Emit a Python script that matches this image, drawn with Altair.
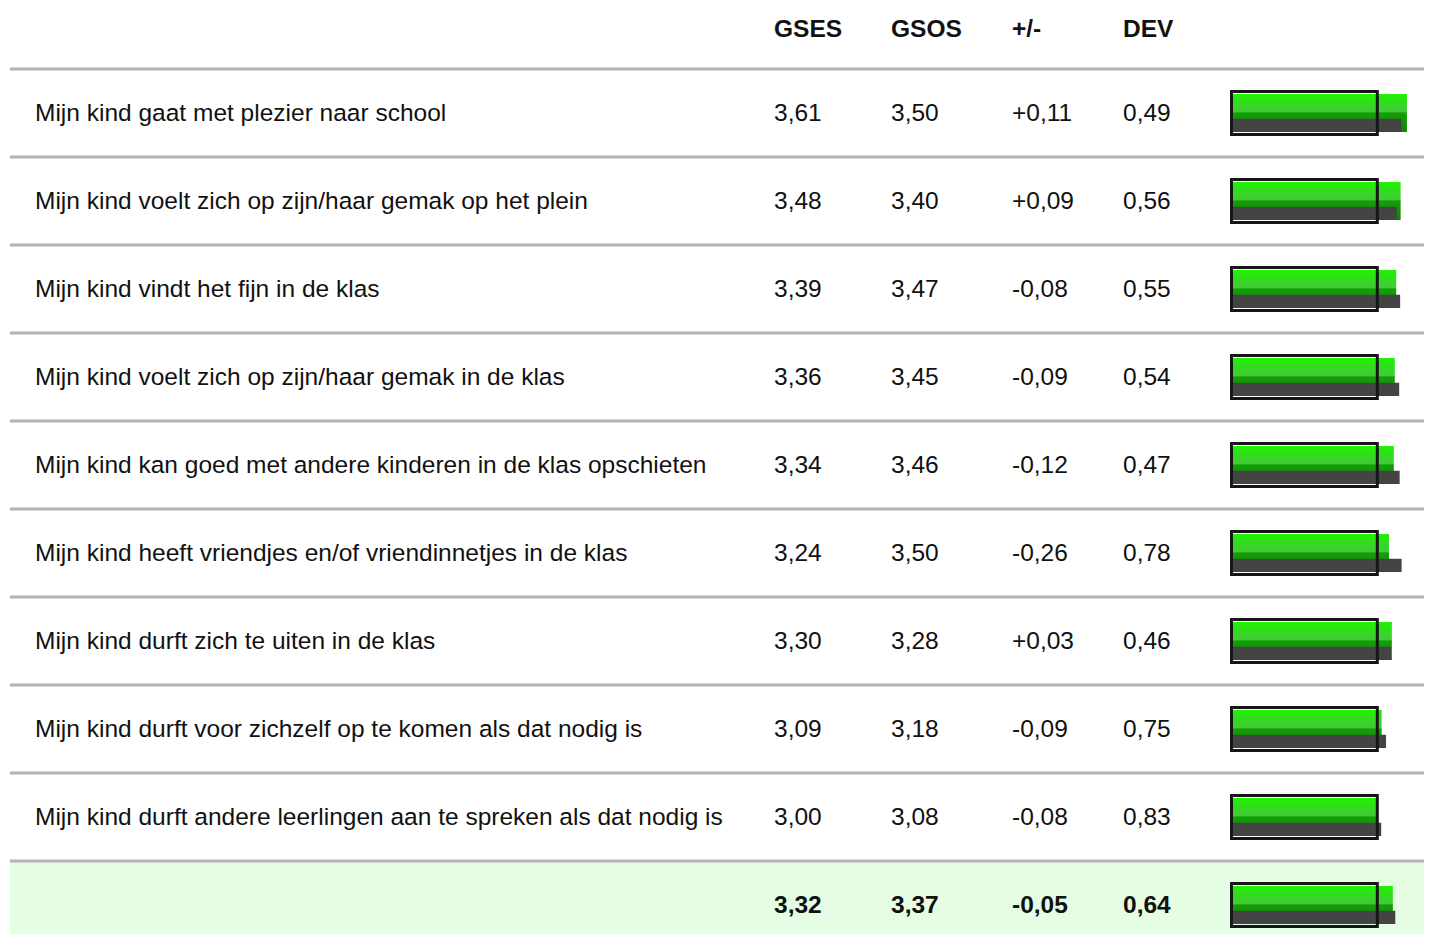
import altair as alt
import pandas as pd

labels = [
    "Mijn kind gaat met plezier naar school",
    "Mijn kind voelt zich op zijn/haar gemak op het plein",
    "Mijn kind vindt het fijn in de klas",
    "Mijn kind voelt zich op zijn/haar gemak in de klas",
    "Mijn kind kan goed met andere kinderen in de klas opschieten",
    "Mijn kind heeft vriendjes en/of vriendinnetjes in de klas",
    "Mijn kind durft zich te uiten in de klas",
    "Mijn kind durft voor zichzelf op te komen als dat nodig is",
    "Mijn kind durft andere leerlingen aan te spreken als dat nodig is",
    "",
]
gses = [3.61, 3.48, 3.39, 3.36, 3.34, 3.24, 3.30, 3.09, 3.00, 3.32]
gsos = [3.50, 3.40, 3.47, 3.45, 3.46, 3.50, 3.28, 3.18, 3.08, 3.37]
diff = [0.11, 0.09, -0.08, -0.09, -0.12, -0.26, 0.03, -0.09, -0.08, -0.05]
dev = [0.49, 0.56, 0.55, 0.54, 0.47, 0.78, 0.46, 0.75, 0.83, 0.64]
headers = ["GSES", "GSOS", "+/-", "DEV"]
reference = 3.0


def nl(v, sign=False):
    s = f"{v:+.2f}" if sign else f"{v:.2f}"
    return s.replace(".", ",")


rows = list(range(1, len(labels) + 1))
df = pd.DataFrame({
    "r": rows,
    "label": labels,
    "gses": gses,
    "gsos": gsos,
    "gses_t": [nl(v) for v in gses],
    "gsos_t": [nl(v) for v in gsos],
    "diff_t": [nl(v, True) for v in diff],
    "dev_t": [nl(v) for v in dev],
    "ref": [reference] * len(labels),
    "zero": [0.0] * len(labels),
    "total": [False] * (len(labels) - 1) + [True],
})

FONT = "Liberation Sans"
FS = 24.5
yscale = alt.Scale(domain=[0, 10], range=[17, 897], zero=False, nice=False)
xscale = alt.Scale(domain=[0, 4], range=[1223.5, 1417.9], zero=False, nice=False)

base = alt.Chart(df)

# total row background
bg = base.transform_filter("datum.total").transform_calculate(
    y0="datum.r - 0.5", y1="datum.r + 0.6"
).mark_rect(color="#e5fde2").encode(
    y=alt.Y("y0:Q", scale=yscale, axis=None),
    y2="y1:Q",
    x=alt.value(2),
    x2=alt.value(1424),
)

# separators
sep = base.transform_calculate(ys="datum.r - 0.5").mark_rule(
    color="#b3b3b3", strokeWidth=3
).encode(
    y=alt.Y("ys:Q", scale=yscale, axis=None),
    x=alt.value(2),
    x2=alt.value(1424),
)

# header text
hx = [766, 883, 1004, 1115]
hdf = pd.DataFrame({"h": headers, "px": hx, "r": [0] * len(headers)})
header = alt.Chart(hdf).mark_text(
    align="left", baseline="middle", font=FONT, fontSize=FS, fontWeight="bold",
    color="#111111", dy=5
).encode(
    x=alt.X("px:Q", scale=None, axis=None),
    y=alt.Y("r:Q", scale=yscale, axis=None),
    text="h:N",
)


def col_text(field, px, bold):
    flt = "datum.total" if bold else "!datum.total"
    return base.transform_filter(flt).mark_text(
        align="left", baseline="middle", font=FONT, fontSize=FS, color="#111111",
        fontWeight="bold" if bold else "normal", dy=1,
    ).encode(
        x=alt.value(px),
        y=alt.Y("r:Q", scale=yscale, axis=None),
        text=f"{field}:N",
    )


texts = []
for f, px in [("label", 27), ("gses_t", 766), ("gsos_t", 883), ("diff_t", 1004), ("dev_t", 1115)]:
    texts.append(col_text(f, px, False))
    texts.append(col_text(f, px, True))

green_grad = alt.Gradient(
    gradient="linear",
    stops=[
        alt.GradientStop(color="#20f200", offset=0),
        alt.GradientStop(color="#2ee01a", offset=0.2),
        alt.GradientStop(color="#45c83a", offset=0.46),
        alt.GradientStop(color="#14a005", offset=0.5),
        alt.GradientStop(color="#0c8800", offset=1),
    ],
    x1=0, x2=0, y1=0, y2=1,
)

green = base.transform_calculate(
    ya="datum.r - 0.216", yb="datum.r + 0.216"
).mark_bar(color=green_grad).encode(
    x=alt.X("zero:Q", scale=xscale, axis=None),
    x2="gses:Q",
    y=alt.Y("ya:Q", scale=yscale, axis=None),
    y2="yb:Q",
)

gray = base.transform_calculate(
    ya="datum.r + 0.066", yb="datum.r + 0.216"
).mark_bar(color="#444444").encode(
    x=alt.X("zero:Q", scale=xscale, axis=None),
    x2="gsos:Q",
    y=alt.Y("ya:Q", scale=yscale, axis=None),
    y2="yb:Q",
)

box = base.transform_calculate(
    ya="datum.r - 0.244", yb="datum.r + 0.244"
).mark_rect(fillOpacity=0, stroke="#161616", strokeWidth=3).encode(
    x=alt.X("zero:Q", scale=xscale, axis=None),
    x2="ref:Q",
    y=alt.Y("ya:Q", scale=yscale, axis=None),
    y2="yb:Q",
)

chart = alt.layer(bg, sep, header, *texts, green, gray, box).properties(
    width=1416, height=926, autosize=alt.AutoSizeParams(type="none"), padding=0,
    background="white",
).configure_view(stroke=None)

chart.save("out.html", embed_options={"renderer": "svg", "actions": False})
